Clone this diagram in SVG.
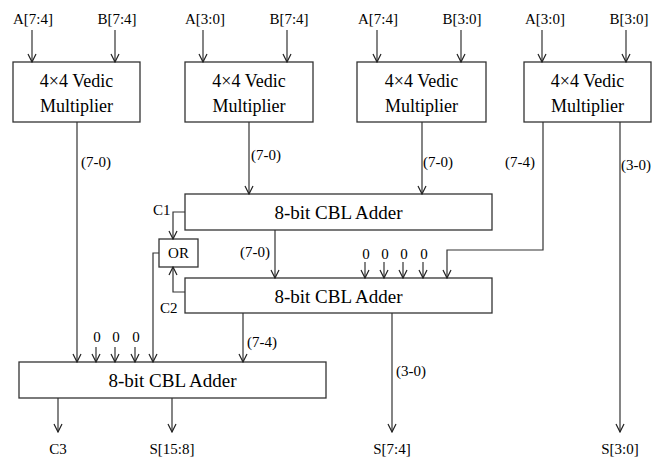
<svg xmlns="http://www.w3.org/2000/svg" width="652" height="457" viewBox="0 0 652 457">
<defs>
<marker id="ah" viewBox="0 0 10 10" refX="9" refY="5" markerWidth="10" markerHeight="10" markerUnits="userSpaceOnUse" orient="auto">
<path d="M1,1 L9,5 L1,9" fill="none" stroke="#222" stroke-width="1.2"/>
</marker>
<style>
.box{fill:#fff;stroke:#333;stroke-width:1.3}
.a{fill:none;stroke:#333;stroke-width:1.2;marker-end:url(#ah)}
.t{font-family:'Liberation Serif','Times New Roman',Times,serif;fill:#000}
.big{font-size:18px;text-anchor:middle}
.add{font-size:19px;text-anchor:middle}
.lab{font-size:15px}
.mid{text-anchor:middle}
</style>
</defs>
<rect width="652" height="457" fill="#fff"/>
<g class="t">
<g id="mult1">
<rect class="box" x="13" y="62" width="127" height="60"/>
<text class="big" x="76.5" y="87">4×4 Vedic</text>
<text class="big" x="76.5" y="112">Multiplier</text>
</g>
<g id="mult2">
<rect class="box" x="185" y="62" width="128" height="60"/>
<text class="big" x="249" y="87">4×4 Vedic</text>
<text class="big" x="249" y="112">Multiplier</text>
</g>
<g id="mult3">
<rect class="box" x="357" y="62" width="129" height="60"/>
<text class="big" x="421.5" y="87">4×4 Vedic</text>
<text class="big" x="421.5" y="112">Multiplier</text>
</g>
<g id="mult4">
<rect class="box" x="524" y="62" width="127" height="60"/>
<text class="big" x="587.5" y="87">4×4 Vedic</text>
<text class="big" x="587.5" y="112">Multiplier</text>
</g>
<g id="adder1">
<rect class="box" x="185" y="194" width="307" height="36"/>
<text class="add" x="338.5" y="219">8-bit CBL Adder</text>
</g>
<g id="or">
<rect class="box" x="159" y="239" width="39" height="28"/>
<text class="lab mid" x="178.5" y="258">OR</text>
</g>
<g id="adder2">
<rect class="box" x="185" y="278" width="307" height="35"/>
<text class="add" x="338.5" y="303">8-bit CBL Adder</text>
</g>
<g id="adder3">
<rect class="box" x="19" y="362" width="307" height="36"/>
<text class="add" x="172.5" y="387">8-bit CBL Adder</text>
</g>
<g id="connectors">
<path class="a" d="M32,30 V62"/>
<path class="a" d="M115,30 V62"/>
<path class="a" d="M203,30 V62"/>
<path class="a" d="M287,30 V62"/>
<path class="a" d="M377,30 V62"/>
<path class="a" d="M461,30 V62"/>
<path class="a" d="M542,30 V62"/>
<path class="a" d="M626,30 V62"/>
<path class="a" d="M77,122 V362"/>
<path class="a" d="M249,122 V194"/>
<path class="a" d="M422,122 V194"/>
<path class="a" d="M543,122 V250 H447 V278"/>
<path class="a" d="M620,122 V432"/>
<path class="a" d="M185,212 H173 V239"/>
<path class="a" d="M185,292 H173 V267"/>
<path class="a" d="M159,253 H153 V362"/>
<path class="a" d="M275,230 V278"/>
<path class="a" d="M365,262 V278"/>
<path class="a" d="M384,262 V278"/>
<path class="a" d="M403,262 V278"/>
<path class="a" d="M423,262 V278"/>
<path class="a" d="M96,347 V362"/>
<path class="a" d="M115,347 V362"/>
<path class="a" d="M135,347 V362"/>
<path class="a" d="M243,313 V362"/>
<path class="a" d="M392,313 V432"/>
<path class="a" d="M58,398 V432"/>
<path class="a" d="M172,398 V432"/>
</g>
<g id="labels">
<text class="lab mid" x="33" y="24">A[7:4]</text>
<text class="lab mid" x="117" y="24">B[7:4]</text>
<text class="lab mid" x="205" y="24">A[3:0]</text>
<text class="lab mid" x="289" y="24">B[7:4]</text>
<text class="lab mid" x="378" y="24">A[7:4]</text>
<text class="lab mid" x="462" y="24">B[3:0]</text>
<text class="lab mid" x="545" y="24">A[3:0]</text>
<text class="lab mid" x="629" y="24">B[3:0]</text>
<text class="lab" x="81" y="167">(7-0)</text>
<text class="lab" x="251" y="160">(7-0)</text>
<text class="lab" x="423" y="167">(7-0)</text>
<text class="lab" x="505" y="167">(7-4)</text>
<text class="lab" x="621" y="170">(3-0)</text>
<text class="lab" x="153" y="215">C1</text>
<text class="lab" x="160" y="313">C2</text>
<text class="lab" x="240" y="257">(7-0)</text>
<text class="lab mid" x="366" y="259">0</text>
<text class="lab mid" x="385" y="259">0</text>
<text class="lab mid" x="404" y="259">0</text>
<text class="lab mid" x="424" y="259">0</text>
<text class="lab mid" x="97" y="342">0</text>
<text class="lab mid" x="116" y="342">0</text>
<text class="lab mid" x="136" y="342">0</text>
<text class="lab" x="247" y="347">(7-4)</text>
<text class="lab" x="396" y="376">(3-0)</text>
<text class="lab mid" x="58" y="454">C3</text>
<text class="lab mid" x="172" y="454">S[15:8]</text>
<text class="lab mid" x="392" y="454">S[7:4]</text>
<text class="lab mid" x="620" y="454">S[3:0]</text>
</g>
</g>
</svg>
